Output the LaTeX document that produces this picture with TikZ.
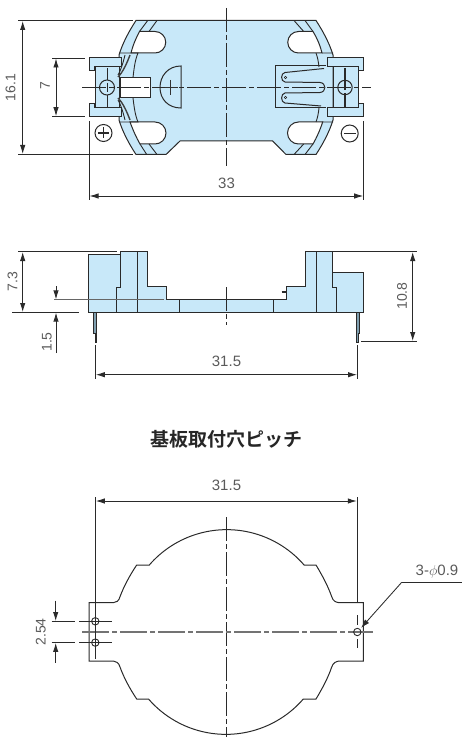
\documentclass[tikz,border=0pt]{standalone}
\usepackage{fontspec}
\setmainfont{Liberation Sans}
\newfontfamily\cjk[BoldFont=Noto Sans CJK JP Bold]{Noto Sans CJK JP}
\usetikzlibrary{arrows.meta}
\definecolor{bodyblue}{HTML}{C8E8F9}
\definecolor{inkdark}{HTML}{2A2A2A}
\definecolor{labelgray}{HTML}{5A5A5A}
\definecolor{pinblue}{HTML}{7F9FB0}
\tikzset{
 part/.style={draw=inkdark,line width=1pt,line join=miter},
 bluefill/.style={part,fill=bodyblue},
 hole/.style={part,fill=white},
 rim/.style={draw=inkdark,line width=0.9pt},
 ext/.style={draw=inkdark,line width=0.85pt},
 dim/.style={draw=inkdark,line width=0.85pt,{Latex[length=9pt,width=5.4pt]}-{Latex[length=9pt,width=5.4pt]}},
 dimend/.style={draw=inkdark,line width=0.85pt,-{Latex[length=9pt,width=5.4pt]}},
 centerline/.style={draw=inkdark,line width=0.85pt,dash pattern=on 24pt off 3pt on 5pt off 3pt},
 centergray/.style={draw=black!55,line width=1.1pt,dash pattern=on 27pt off 3pt on 5pt off 3pt},
 lab/.style={text=labelgray,font=\fontsize{15}{15}\selectfont,inner sep=0pt},
 labr/.style={text=labelgray,font=\fontsize{14}{14}\selectfont,inner sep=0pt,rotate=90},
 titletext/.style={text=black!85,font=\cjk\bfseries\fontsize{19}{20}\selectfont,inner sep=0pt},
 pin/.style={draw=inkdark,line width=0.6pt,fill=pinblue},
}
\begin{document}
\begin{tikzpicture}[x=1pt,y=-1pt]
\useasboundingbox (0,0) rectangle (462,738);
% ===== top view =====
\path[bluefill] (136,20.5) -- (316,20.5)
  .. controls (323.5,32) and (329.5,43.5) .. (333,55) -- (333,120)
  .. controls (329.5,131.5) and (323.5,143) .. (316,154.5)
  -- (286,154.5) -- (272.7,141) -- (180,141) -- (166,154.5) -- (136,154.5)
  .. controls (128.5,143) and (122.5,131.5) .. (119,120) -- (119,55)
  .. controls (122.5,43.5) and (128.5,32) .. (136,20.5) -- cycle;
% slots
\path[hole] (131,53) .. controls (133,45) and (136,38) .. (139.5,31.5) -- (155,31.5) arc[start angle=90,end angle=-90,radius=10.75pt] -- cycle;
\path[hole] (130,122) -- (155,122) arc[start angle=90,end angle=-90,radius=11pt] -- (140,144) .. controls (136,137) and (133,130) .. (130,122) -- cycle;
\path[hole] (322,53) .. controls (320,45) and (317,38) .. (313,31.5) -- (298.5,31.5) arc[start angle=90,end angle=270,radius=10.75pt] -- cycle;
\path[hole] (322.7,122) -- (298.5,122) arc[start angle=90,end angle=270,radius=11pt] -- (313,144) .. controls (317,137) and (320,130) .. (322.7,122) -- cycle;
% inner rim lines
\path[rim] (147.7,20.5) -- (139.5,31.5);
\path[rim] (157,20.5) -- (149,31.5);
\path[rim] (146.7,154.5) -- (140,144);
\path[rim] (157,154.5) -- (149,144);
\path[rim] (294,20.5) -- (303.7,31.5);
\path[rim] (305,20.5) -- (313,31.5);
\path[rim] (294,154.5) -- (303.7,144);
\path[rim] (305,154.5) -- (313,144);
\path[rim] (119,53) -- (138,53) .. controls (135,60) and (134,69) .. (133,77.5);
\path[rim] (119,122) -- (138,122) .. controls (135,115) and (134,106) .. (133,98);
\path[rim] (322,53) -- (333,53) (316,53) .. controls (317.5,57) and (318.5,62) .. (319,67);
\path[rim] (322,122) -- (333,122) (316,122) .. controls (317.5,118) and (318.5,113) .. (319,108);
% right terminal plate
\path[part] (326,66) -- (275.3,66) -- (275.3,108) -- (326,108);
\path[part] (324,68.5) -- (285,72.5) .. controls (280.5,73) and (280.5,81.5) .. (285,82)
 -- (320,82.5) .. controls (326.5,83) and (326.5,92) .. (320,92.5)
 -- (285,93) .. controls (280.5,93.5) and (280.5,102.5) .. (285,103) -- (321,106);
\path[part,line width=0.6pt] (285.5,77.5) circle[radius=1.2pt] (285.5,97.5) circle[radius=1.2pt];
% left terminal and D shape
\path[hole] (120,77.5) -- (150,77.5) -- (150,98) -- (120,98) -- cycle;
\path[part,fill=none] (181,66) .. controls (168,66) and (160,76) .. (160,87.5) .. controls (160,99) and (168,108) .. (181,108) -- cycle;
% left ear
\path[bluefill] (95,66.7) -- (119,66.7) -- (119,108) -- (95,108) -- cycle;
\path[bluefill] (89,58) -- (121,58) -- (121,66.7) -- (94,66.7) -- (94,71) -- (89,71) -- cycle;
\path[bluefill] (89,104) -- (94,104) -- (94,108) -- (121,108) -- (121,116.7) -- (89,116.7) -- cycle;
\path[part] (107,87.5) circle[radius=7.5pt];
\path[rim] (107,68) -- (107,80) (107,83) -- (107,92) (107,95) -- (107,107);
\path[draw=black!75,line width=1.4pt] (130,55) .. controls (127,63) and (123,72) .. (118,77);
\path[rim] (125,55) .. controls (123,63) and (121,70) .. (118,75);
\path[draw=black!75,line width=1.4pt] (130,120) .. controls (127,112) and (123,103) .. (118,98);
\path[rim] (125,120) .. controls (123,112) and (121,105) .. (118,100);
% right ear
\path[bluefill] (333,66.7) -- (358.7,66.7) -- (358.7,108) -- (333,108) -- cycle;
\path[bluefill] (327.3,58) -- (363.7,58) -- (363.7,71) -- (358.7,71) -- (358.7,66.7) -- (327.3,66.7) -- cycle;
\path[bluefill] (327.3,108) -- (358.7,108) -- (358.7,104) -- (363.7,104) -- (363.7,116.7) -- (327.3,116.7) -- cycle;
\path[part] (345,87.5) circle[radius=7.2pt];
\path[rim,line width=1.2pt] (345,68) -- (345,90) (345,93) -- (345,107);
% center lines
\path[centerline] (82,87.5) -- (371,87.5);
\path[centerline] (226.7,8) -- (226.7,166);
\path[draw=black!80,line width=1.8pt] (164.5,87.5) -- (178,87.5) (170.5,80) -- (170.5,95);
% polarity
\path[part] (103.5,133) circle[radius=8.5pt];
\path[rim,line width=1.4pt] (98,133) -- (109,133) (103.5,127.5) -- (103.5,138.5);
\path[part] (349.7,133.5) circle[radius=8.5pt];
\path[rim,line width=1.4pt] (344,133.5) -- (355.5,133.5);
% dimensions top
\path[ext] (18,20.5) -- (133,20.5) (18,154.5) -- (133,154.5);
\path[dim] (22.7,21) -- (22.7,154);
\node[labr] (d161) at (10.5,87.5) {16.1};
\path[ext] (52,58) -- (85,58) (52,116.7) -- (85,116.7);
\path[dim] (56,58.5) -- (56,116.2);
\node[labr] (d7) at (45,85.5) {7};
\path[ext] (89,121) -- (89,200) (363.7,121) -- (363.7,200);
\path[dim] (89.5,196) -- (363.2,196);
\node[lab] (d33) at (226.5,183) {33};
% ===== side view =====
\path[pin] (93.3,312.3) -- (93.3,333) -- (95,333) -- (95,342) -- (96.7,342) -- (96.7,312.3) -- cycle;
\path[pin] (356.3,312.3) -- (356.3,342) -- (358.7,342) -- (358.7,333) -- (359.3,333) -- (359.3,312.3) -- cycle;
\path[bluefill] (88.7,254.3) -- (120,254.3) -- (120,251.7) -- (147,251.7) -- (147,286.7) -- (166,286.7) -- (166,299.7)
 -- (286.7,299.7) -- (286.7,286.7) -- (305,286.7) -- (305,251.7) -- (332.7,251.7) -- (332.7,272.7) -- (363.7,272.7) -- (363.7,312.3) -- (88.7,312.3) -- cycle;
\path[rim] (120,252) -- (120,287) -- (116,287) -- (116,312);
\path[rim] (137,252) -- (137,312);
\path[rim] (179.7,300) -- (179.7,312);
\path[rim] (273.3,300) -- (273.3,312);
\path[rim] (316.3,252) -- (316.3,312);
\path[rim] (332.7,272) -- (332.7,287) -- (336.7,287) -- (336.7,312);
\path[centerline] (226.7,287) -- (226.7,325);
\path[draw=inkdark,line width=1.4pt] (281.5,292) -- (286,292);
\path[ext] (18,251.5) -- (117,251.5) (12,312.3) -- (79,312.3);
\path[dim] (22.7,252) -- (22.7,312);
\node[labr] (d73) at (12.5,281.5) {7.3};
\path[draw=black!60,line width=1pt] (54,299.7) -- (164,299.7);
\path[dimend] (56,286) -- (56,299.4);
\path[dimend] (56,353) -- (56,312.6);
\node[labr] (d15) at (47,342) {1.5};
\path[ext] (95.3,345) -- (95.3,379) (357.5,345) -- (357.5,379);
\path[dim] (95.8,374.7) -- (357,374.7);
\node[lab] (d315a) at (226.5,361) {31.5};
\path[ext] (333,251.5) -- (417,251.5) (361,341.3) -- (417,341.3);
\path[dim] (412.7,252) -- (412.7,341);
\node[labr] (d108) at (402,296) {10.8};
% ===== title =====
\node[titletext] (ttl) at (226.5,439) {基板取付穴ピッチ};
% ===== bottom view =====
\path[part] (149.3,565) arc[start angle=139.1,end angle=40.9,radius=102.4pt]
 -- (316,565) .. controls (322,575) and (328,586) .. (331.7,596.7) .. controls (333,601) and (336,602.7) .. (340,602.7)
 -- (363.3,602.7) -- (363.3,661) -- (340,661) .. controls (336,661) and (333,663) .. (331.7,667)
 .. controls (328,678) and (322,689) .. (316,699) -- (303.3,699)
 arc[start angle=-40.9,end angle=-139.1,radius=102.4pt]
 -- (136.7,699) .. controls (130,689) and (124,678) .. (120,667) .. controls (119,663) and (116,661) .. (113.3,661)
 -- (89,661) -- (89,602.7) -- (113.3,602.7) .. controls (116,602.7) and (119,601) .. (120,596.7)
 .. controls (124,586) and (130,575) .. (136.7,565) -- cycle;
\path[centerline] (226.7,517) -- (226.7,737);
\path[centergray] (82,632) -- (373,632);
\path[ext] (95.3,497) -- (95.3,659);
\path[ext] (357.3,497) -- (357.3,602.7) (357.3,615) -- (357.3,625) (357.3,639) -- (357.3,648);
\path[dim] (95.8,501) -- (356.8,501);
\node[lab] (d315b) at (226.5,485) {31.5};
\path[part,line width=0.9pt] (95.3,621.3) circle[radius=3.7pt] (95.3,642.6) circle[radius=3.7pt] (357.3,632) circle[radius=3.7pt];
\path[ext] (51.7,621.3) -- (75,621.3) (79,621.3) -- (111.7,621.3) (51.7,642.6) -- (75,642.6) (79,642.6) -- (111.7,642.6);
\path[dimend] (55.7,600.7) -- (55.7,621);
\path[dimend] (55.7,662.7) -- (55.7,642.9);
\node[labr] (d254) at (40.7,632) {2.54};
\coordinate (hole3) at (361,628);
\coordinate (elbow) at (401.7,582.3);
\coordinate (leaderend) at (462,582.3);
\path[dimend] (elbow) -- (hole3);
\path[ext] (elbow) -- (leaderend);
\node[lab] (d09) at (437,572) {3-$\phi$0.9};
\end{tikzpicture}
\end{document}
